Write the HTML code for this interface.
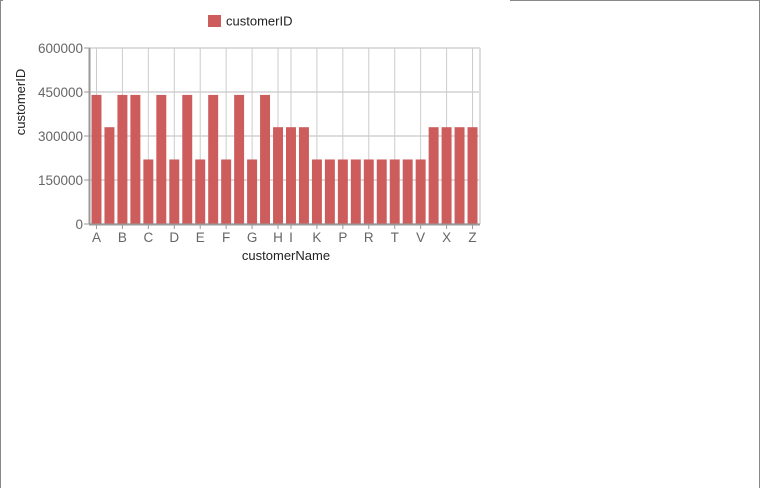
<!DOCTYPE html>
<html><head><meta charset="utf-8"><style>
html,body{margin:0;padding:0;background:#fff;}
svg{display:block;font-family:"Liberation Sans",Arial,sans-serif;}
</style></head><body>
<svg id="chart" width="760" height="488">
<rect x="0" y="0" width="760" height="488" fill="#fff"/>
<line x1="0.5" y1="0" x2="0.5" y2="488" stroke="#888"/>
<line x1="759.5" y1="0" x2="759.5" y2="488" stroke="#888"/>
<line x1="510" y1="0.5" x2="760" y2="0.5" stroke="#888"/>
<line x1="0" y1="0.5" x2="3" y2="0.5" stroke="#888"/>
<g id="grid"></g><g id="bars"></g><g id="axes"></g>
<rect x="208" y="15" width="13" height="12" fill="#cd5c5c"/>
<text x="226" y="25.5" font-size="13" fill="#222">customerID</text>
<text x="286" y="260" font-size="13" fill="#222" text-anchor="middle">customerName</text>
<text transform="translate(25,102) rotate(-90)" font-size="13" fill="#222" text-anchor="middle">customerID</text>
</svg>
<script>
const categories=["A","","B","","C","","D","","E","","F","","G","","H","I","","K","","P","","R","","T","","V","","X","","Z"];
const values=[440000,330000,440000,440000,220000,440000,220000,440000,220000,440000,220000,440000,220000,440000,330000,330000,330000,220000,220000,220000,220000,220000,220000,220000,220000,220000,330000,330000,330000,330000];
const yTicks=[0,150000,300000,450000,600000];
const NS="http://www.w3.org/2000/svg";
const X0=90,X1=479,Y0=224,Y1=48,YMAX=600000;
const band=(X1-X0)/values.length;
function xs(i){return X0+i*band;}
function ys(v){return Y0-(v/YMAX)*(Y0-Y1);}
function mk(t,a,p){const e=document.createElementNS(NS,t);for(const k in a)e.setAttribute(k,a[k]);p.appendChild(e);return e;}
const grid=document.getElementById('grid'),bars=document.getElementById('bars'),axes=document.getElementById('axes');
yTicks.forEach(t=>{const y=ys(t);
 const g=mk('line',{x1:X0,x2:X1+1,y1:y,y2:y,stroke:'#ddd','stroke-width':2},grid);
 
 
 const tk=mk('line',{x1:X0-6,x2:X0,y1:y,y2:y,stroke:'#999'},axes);
 
 
 const tx=mk('text',{x:X0-7,y:y+5,'font-size':13.5,fill:'#666','text-anchor':'end'},axes);
 tx.textContent=String(t);
 
 
});
const rb=mk('line',{x1:X1+1,x2:X1+1,y1:Y1,y2:Y0,stroke:'#ddd','stroke-width':2},grid);


categories.forEach((c,i)=>{if(!c)return;const x=xs(i)+band/2;
 const g=mk('line',{x1:x,x2:x,y1:Y1,y2:Y0,stroke:'#ccc'},grid);
 
 
 const tk=mk('line',{x1:x,x2:x,y1:Y0,y2:Y0+5,stroke:'#999'},axes);
 
 
 const tx=mk('text',{x:x,y:Y0+18,'font-size':13.5,fill:'#666','text-anchor':'middle'},axes);
 tx.textContent=c;
 
 
});
values.forEach((v,i)=>{
 const r=mk('rect',{x:xs(i)+1.5,y:ys(v),width:band-3,height:Y0-ys(v),fill:'#cd5c5c'},bars);
 
 
});
const ya=mk('line',{x1:X0-0.5,x2:X0-0.5,y1:Y1,y2:Y0,stroke:'#999','stroke-width':2},axes);


const xa=mk('line',{x1:X0-1,x2:X1+1,y1:Y0+0.5,y2:Y0+0.5,stroke:'#999','stroke-width':2},axes);


</script>
</body></html>
